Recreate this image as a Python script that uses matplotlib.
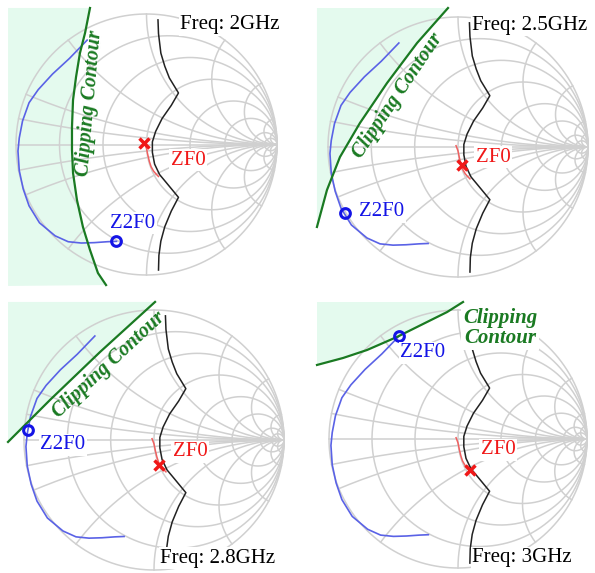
import numpy as np
import matplotlib.pyplot as plt
from matplotlib.patches import Polygon

plt.rcParams['font.family'] = ['Liberation Serif', 'DejaVu Serif']

# Smith chart grid (normalized resistance / reactance)
grid_r = [0.2, 0.5, 1, 2, 4, 10, 20]
grid_x = [0.1, 0.2, 0.5, 1, 2, 4, 10, 20]

freq_labels = ['Freq: 2GHz', 'Freq: 2.5GHz', 'Freq: 2.8GHz', 'Freq: 3GHz']

# fundamental load sweep (reflection coefficient)
zf0_trace_re = [-0.015, 0.0, 0.010, 0.022, 0.035, 0.055, 0.075, 0.092]
zf0_trace_im = [0.01, -0.03, -0.08, -0.13, -0.17, -0.205, -0.228, -0.245]
# selected fundamental load at each frequency
zf0_re = [-0.019, 0.031, 0.038, 0.093]
zf0_im = [0.011, -0.138, -0.192, -0.240]

# second harmonic load sweep
z2f0_trace_re = [-0.455, -0.59, -0.72, -0.83, -0.90, -0.95, -0.975, -0.985, -0.975,
                 -0.945, -0.90, -0.82, -0.70, -0.60, -0.50, -0.40, -0.30, -0.23]
z2f0_trace_im = [0.80, 0.66, 0.54, 0.42, 0.32, 0.18, 0.05, -0.05, -0.20,
                 -0.34, -0.47, -0.60, -0.70, -0.745, -0.755, -0.752, -0.745, -0.742]
# selected second harmonic load at each frequency
z2f0_re = [-0.23, -0.87, -0.97, -0.455]
z2f0_im = [-0.742, -0.51, 0.08, 0.80]

# efficiency boundary of the fundamental load
eff_re = [0.088, 0.092, 0.110, 0.140, 0.175, 0.245, 0.190, 0.120, 0.070, 0.045,
          0.045, 0.062, 0.100, 0.150, 0.245, 0.190, 0.140, 0.110, 0.095, 0.092]
eff_im = [0.955, 0.850, 0.700, 0.600, 0.510, 0.395, 0.300, 0.200, 0.100, 0.020,
          -0.060, -0.150, -0.230, -0.290, -0.405, -0.510, -0.630, -0.740, -0.850, -0.962]

# clipping contours of the second harmonic load
clip_2g_re = [-0.433, -0.471, -0.510, -0.540, -0.563, -0.571, -0.571, -0.563,
              -0.533, -0.487, -0.433, -0.372, -0.310]
clip_2g_im = [1.046, 0.854, 0.701, 0.517, 0.341, 0.134, -0.042, -0.218,
              -0.425, -0.632, -0.808, -0.985, -1.077]
clip_2p5g_re = [-0.077, -0.315, -0.546, -0.754, -0.908, -1.008, -1.085]
clip_2p5g_im = [1.069, 0.800, 0.492, 0.185, -0.077, -0.331, -0.615]
clip_2p8g_re = [0.008, -0.415, -0.800, -1.123]
clip_2p8g_im = [1.062, 0.677, 0.308, -0.015]
clip_3g_re = [-1.093, -0.891, -0.705, -0.473, -0.240, -0.085, 0.039]
clip_3g_im = [0.574, 0.628, 0.690, 0.791, 0.907, 0.984, 1.062]

# outer corners of the clipped (shaded) region
shade_2g_re, shade_2g_im = [-1.061, -1.061], [-1.084, 1.046]
shade_2p5g_re, shade_2p5g_im = [-1.085], [1.069]
shade_2p8g_re, shade_2p8g_im = [-1.123], [1.062]
shade_3g_re, shade_3g_im = [-1.093], [1.062]

clip_re = [clip_2g_re, clip_2p5g_re, clip_2p8g_re, clip_3g_re]
clip_im = [clip_2g_im, clip_2p5g_im, clip_2p8g_im, clip_3g_im]
shade_re = [shade_2g_re, shade_2p5g_re, shade_2p8g_re, shade_3g_re]
shade_im = [shade_2g_im, shade_2p5g_im, shade_2p8g_im, shade_3g_im]

# layout: chart centre / radius in pixels, label positions in chart units
W, H = 595, 573
panels = [(146.5, 144.5, 130.5), (458, 147, 130), (154, 440, 130), (458, 439, 129)]
freq_pos = [(0.64, 0.916), (0.554, 0.938), (0.492, -0.908), (0.496, -0.922)]
zf0_pos = [(0.319, -0.119), (0.269, -0.077), (0.277, -0.092), (0.31, -0.085)]
z2f0_pos = [(-0.103, -0.602), (-0.585, -0.50), (-0.70, -0.038), (-0.271, 0.667)]
clip_txt = [(-0.44, 0.32, 85), (-0.462, 0.392, 56), (-0.346, 0.577, 43), (0.326, 0.86, 0)]

grid_col = '#d0d0d0'
green = '#1a7a22'
shade_col = '#e4faee'
blue_line = '#5a62e6'
blue = '#1414e6'
red = '#f01818'
red_line = '#f06060'
L = 1.2


def draw_grid(ax):
    t = np.linspace(0, 2 * np.pi, 500)
    ax.plot(np.cos(t), np.sin(t), color=grid_col, lw=1.1, zorder=1)
    ax.plot([-1, 1], [0, 0], color=grid_col, lw=1.1, zorder=1)
    xs = np.tan(np.linspace(-np.pi / 2 + 1e-4, np.pi / 2 - 1e-4, 800))
    for r in grid_r:
        g = (r + 1j * xs - 1) / (r + 1j * xs + 1)
        ax.plot(g.real, g.imag, color=grid_col, lw=1.1, zorder=1)
    rs = np.concatenate([np.linspace(0, 1, 200), np.logspace(0, 4, 400)])
    for x in grid_x:
        for s in (1, -1):
            z = rs + 1j * s * x
            g = (z - 1) / (z + 1)
            ax.plot(g.real, g.imag, color=grid_col, lw=1.1, zorder=1)


fig = plt.figure(figsize=(W / 100, H / 100), dpi=100)
white_box = dict(facecolor='white', edgecolor='none', pad=1.0)

for i, (cx, cy, R) in enumerate(panels):
    ax = fig.add_axes([(cx - L * R) / W, (H - cy - L * R) / H, 2 * L * R / W, 2 * L * R / H])
    ax.set_xlim(-L, L)
    ax.set_ylim(-L, L)
    ax.axis('off')

    # shaded area outside the clipping contour
    pts = list(zip(clip_re[i], clip_im[i])) + list(zip(shade_re[i], shade_im[i]))
    ax.add_patch(Polygon(pts, closed=True, facecolor=shade_col, edgecolor='none', zorder=0))

    draw_grid(ax)

    ax.plot(eff_re, eff_im, color='#222222', lw=1.1, zorder=2)
    ax.plot(z2f0_trace_re, z2f0_trace_im, color=blue_line, lw=1.2, zorder=3)
    ax.plot(zf0_trace_re, zf0_trace_im, color=red_line, lw=1.1, zorder=3)
    ax.plot(clip_re[i], clip_im[i], color=green, lw=1.6, zorder=4)

    ax.plot(zf0_re[i], zf0_im[i], marker='x', color=red, ms=7, mew=2.5, zorder=6)
    ax.plot(z2f0_re[i], z2f0_im[i], marker='o', mfc='none', mec=blue, ms=7, mew=2.2, zorder=6)

    ax.text(*freq_pos[i], freq_labels[i], fontsize=15, ha='center', va='center',
            color='black', bbox=white_box, zorder=7)
    ax.text(*zf0_pos[i], 'ZF0', fontsize=15, ha='center', va='center', color=red,
            bbox=white_box, zorder=7)
    ax.text(*z2f0_pos[i], 'Z2F0', fontsize=15, ha='center', va='center', color=blue,
            bbox=white_box, zorder=7)

    tx, ty, rot = clip_txt[i]
    if i == 3:
        ax.text(tx, ty, 'Clipping\nContour', fontsize=15, ha='center', va='center',
                color=green, fontweight='bold', fontstyle='italic', linespacing=1.0,
                bbox=white_box, zorder=7)
    else:
        ax.text(tx, ty, 'Clipping Contour', fontsize=14.5, ha='center', va='center',
                rotation=rot, rotation_mode='anchor', color=green,
                fontweight='bold', fontstyle='italic', zorder=7)

fig.savefig('out.png', dpi=100)
